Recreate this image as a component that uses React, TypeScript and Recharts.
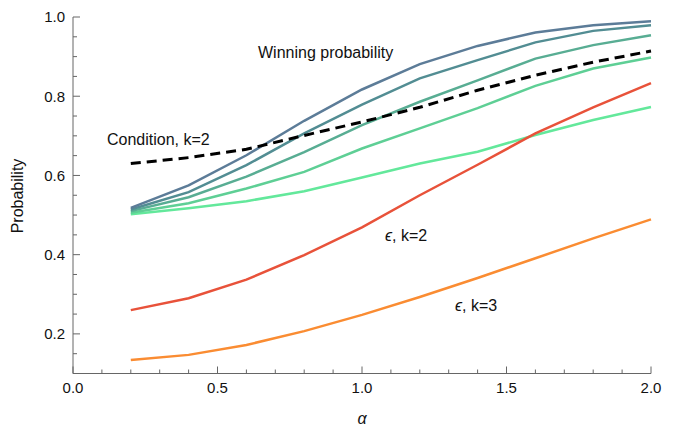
import React from 'react';
import { LineChart, Line, XAxis, YAxis } from 'recharts';

const alpha = [0.2, 0.4, 0.6, 0.8, 1.0, 1.2, 1.4, 1.6, 1.8, 2.0];

// winning probability curves, darkest (top) to lightest (bottom)
const win1 = [0.518, 0.575, 0.651, 0.738, 0.817, 0.881, 0.927, 0.961, 0.979, 0.989];
const win2 = [0.514, 0.558, 0.626, 0.706, 0.779, 0.845, 0.891, 0.936, 0.965, 0.979];
const win3 = [0.510, 0.545, 0.597, 0.659, 0.727, 0.786, 0.840, 0.895, 0.929, 0.954];
const win4 = [0.506, 0.530, 0.567, 0.609, 0.668, 0.719, 0.770, 0.826, 0.870, 0.898];
const win5 = [0.502, 0.517, 0.535, 0.560, 0.595, 0.630, 0.660, 0.702, 0.740, 0.773];

const conditionK2 = [0.630, 0.645, 0.666, 0.701, 0.735, 0.772, 0.815, 0.853, 0.886, 0.914];
const epsK2 = [0.260, 0.290, 0.337, 0.399, 0.469, 0.550, 0.627, 0.706, 0.772, 0.833];
const epsK3 = [0.134, 0.147, 0.172, 0.207, 0.248, 0.293, 0.341, 0.391, 0.441, 0.489];

const xTicks = [0, 0.1, 0.2, 0.3, 0.4, 0.5, 0.6, 0.7, 0.8, 0.9, 1.0, 1.1, 1.2, 1.3, 1.4, 1.5, 1.6, 1.7, 1.8, 1.9, 2.0];
const xLabels = [0, 0.5, 1.0, 1.5, 2.0];
const yTicks = [0.15, 0.2, 0.25, 0.3, 0.35, 0.4, 0.45, 0.5, 0.55, 0.6, 0.65, 0.7, 0.75, 0.8, 0.85, 0.9, 0.95, 1.0];
const yLabels = [0.2, 0.4, 0.6, 0.8, 1.0];

const data = alpha.map((a, i) => ({
  alpha: a,
  win1: win1[i],
  win2: win2[i],
  win3: win3[i],
  win4: win4[i],
  win5: win5[i],
  cond: conditionK2[i],
  eps2: epsK2[i],
  eps3: epsK3[i],
}));

const FONT = '"Liberation Sans", Arial, sans-serif';
const AXIS = '#666666';

const isLabel = (list: number[], v: number) => list.some((l) => Math.abs(l - v) < 1e-6);

const XTick = (props: any) => {
  const { x, y, payload } = props;
  const major = isLabel(xLabels, payload.value);
  return (
    <g>
      <line x1={x} x2={x} y1={y} y2={y - (major ? 7 : 4)} stroke={AXIS} strokeWidth={1} />
      {major && (
        <text x={x} y={y + 19.5} textAnchor="middle" fontSize={15} fontFamily={FONT} fill="#111">
          {payload.value.toFixed(1)}
        </text>
      )}
    </g>
  );
};

const YTick = (props: any) => {
  const { x, y, payload } = props;
  const major = isLabel(yLabels, payload.value);
  return (
    <g>
      <line x1={x} x2={x + (major ? 7 : 4)} y1={y} y2={y} stroke={AXIS} strokeWidth={1} />
      {major && (
        <text x={x - 8} y={y + 5.3} textAnchor="end" fontSize={15} fontFamily={FONT} fill="#111">
          {payload.value.toFixed(1)}
        </text>
      )}
    </g>
  );
};

const textStyle = { fontSize: 16, fontFamily: FONT, fill: '#111' };

export default function App() {
  return (
    <div style={{ position: 'absolute', left: 0, top: 0, width: 676, height: 428, background: '#fff' }}>
      <LineChart width={676} height={428} data={data} margin={{ top: 17, right: 25, bottom: 0, left: 0 }}>
        <XAxis
          dataKey="alpha"
          type="number"
          domain={[0, 2]}
          ticks={xTicks}
          interval={0}
          height={54.5}
          tickSize={0}
          tickMargin={0}
          tickLine={false}
          axisLine={{ stroke: AXIS }}
          tick={<XTick />}
        />
        <YAxis
          type="number"
          domain={[0.1, 1]}
          ticks={yTicks}
          interval={0}
          width={73}
          tickSize={0}
          tickMargin={0}
          tickLine={false}
          axisLine={{ stroke: AXIS }}
          tick={<YTick />}
        />
        <Line type="linear" dataKey="win5" stroke="#63e89b" strokeWidth={2.5} dot={false} isAnimationActive={false} />
        <Line type="linear" dataKey="win4" stroke="#5ecf95" strokeWidth={2.5} dot={false} isAnimationActive={false} />
        <Line type="linear" dataKey="win3" stroke="#58ad93" strokeWidth={2.5} dot={false} isAnimationActive={false} />
        <Line type="linear" dataKey="win2" stroke="#528d93" strokeWidth={2.5} dot={false} isAnimationActive={false} />
        <Line type="linear" dataKey="win1" stroke="#5c7c98" strokeWidth={2.5} dot={false} isAnimationActive={false} />
        <Line type="linear" dataKey="eps2" stroke="#e8523a" strokeWidth={2.5} dot={false} isAnimationActive={false} />
        <Line type="linear" dataKey="eps3" stroke="#fa8c32" strokeWidth={2.5} dot={false} isAnimationActive={false} />
        <Line type="linear" dataKey="cond" stroke="#000" strokeWidth={3} strokeDasharray="10 6" dot={false} isAnimationActive={false} />
      </LineChart>
      <svg width={676} height={428} style={{ position: 'absolute', left: 0, top: 0, pointerEvents: 'none' }}>
        <text x={258} y={58} {...textStyle}>Winning probability</text>
        <text x={107} y={145} {...textStyle}>Condition, k=2</text>
        <text x={385} y={241} {...textStyle}>
          <tspan fontStyle="italic">ϵ</tspan>, k=2
        </text>
        <text x={455} y={311} {...textStyle}>
          <tspan fontStyle="italic">ϵ</tspan>, k=3
        </text>
        <text x={23} y={196} textAnchor="middle" transform="rotate(-90 23 196)" {...textStyle}>
          Probability
        </text>
        <text x={362} y={424} textAnchor="middle" fontStyle="italic" {...textStyle}>
          α
        </text>
      </svg>
    </div>
  );
}
